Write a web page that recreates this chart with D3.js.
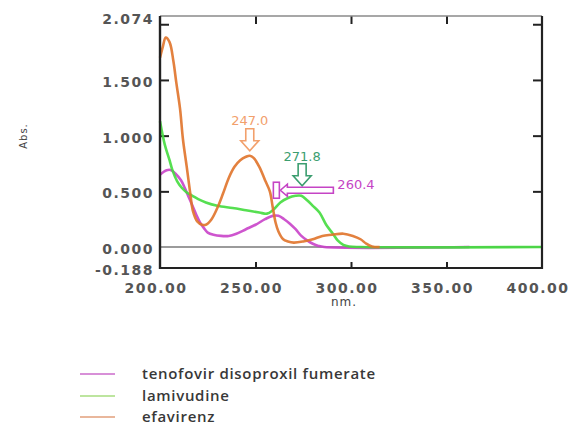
<!DOCTYPE html>
<html>
<head>
<meta charset="utf-8">
<script src="https://cdn.jsdelivr.net/npm/d3@7"></script>
<style>
  body { margin: 0; background: #fff; }
  svg { display: block; }
</style>
</head>
<body>
<div id="chart"></div>
<script>
var WIDTH = 572;
var HEIGHT = 427;

// wavelength (nm) / absorbance
var TENOFOVIR_NM  = [200, 203.5, 206, 208, 211, 213, 215, 217, 219, 221, 223, 225, 228, 232, 236, 240, 245, 250, 255, 259, 262, 265, 268, 271, 274, 277, 280, 283, 286, 362];
var TENOFOVIR_ABS = [0.65, 0.69, 0.69, 0.66, 0.60, 0.53, 0.45, 0.37, 0.29, 0.22, 0.17, 0.13, 0.11, 0.10, 0.10, 0.12, 0.16, 0.20, 0.25, 0.28, 0.28, 0.25, 0.21, 0.16, 0.10, 0.06, 0.03, 0.01, 0.0, 0.0];

var LAMIVUDINE_NM  = [200, 202.5, 205, 206.5, 209, 211.5, 214, 217, 220, 224, 230, 238, 245, 252, 256, 259, 263, 267, 271, 274, 277, 280, 283.5, 287, 290.5, 293, 296, 299, 305, 400];
var LAMIVUDINE_ABS = [1.13, 0.92, 0.78, 0.69, 0.59, 0.53, 0.49, 0.46, 0.43, 0.40, 0.37, 0.35, 0.33, 0.31, 0.30, 0.33, 0.40, 0.44, 0.46, 0.46, 0.42, 0.37, 0.31, 0.20, 0.12, 0.06, 0.02, 0.005, 0.0, 0.0];

var EFAVIRENZ_NM  = [200, 201.5, 203, 205, 207, 208.5, 210.5, 212, 214, 215.7, 217.3, 219.5, 222, 224, 227, 230, 233, 236, 239, 242, 245, 247, 249, 252, 255, 257.5, 259, 260.5, 262, 264.5, 267, 270, 275, 280, 285, 290, 296, 301, 305, 308, 311, 315];
var EFAVIRENZ_ABS = [1.70, 1.80, 1.88, 1.84, 1.67, 1.48, 1.24, 0.97, 0.72, 0.50, 0.32, 0.23, 0.20, 0.20, 0.25, 0.35, 0.48, 0.62, 0.72, 0.78, 0.81, 0.82, 0.80, 0.72, 0.60, 0.50, 0.36, 0.22, 0.14, 0.07, 0.05, 0.04, 0.05, 0.07, 0.10, 0.11, 0.12, 0.10, 0.07, 0.03, 0.005, 0.0];

var SERIES_NAMES = ["tenofovir disoproxil fumerate", "lamivudine", "efavirenz"];
var SERIES_COLORS = ["#c942c9", "#44db3e", "#e0732a"];
var LEGEND_COLORS = ["#d890d8", "#bde59f", "#e9b79c"];

// peak markers: wavelength and the label printed by the instrument
var PEAK_NM = [247.0, 271.8, 260.4];
var PEAK_LABELS = ["247.0", "271.8", "260.4"];
var PEAK_COLORS = ["#f2a06c", "#3c9e70", "#c544c5"];

var Y_TICK_VALUES = [2.074, 1.5, 1.0, 0.5, 0.0, -0.188];
var Y_TICK_LABELS = ["2.074", "1.500", "1.000", "0.500", "0.000", "-0.188"];
var Y_INNER_TICKS = [2.0, 1.5, 1.0, 0.5];
var X_TICK_VALUES = [200, 250, 300, 350, 400];
var X_TICK_LABELS = ["200.00", "250.00", "300.00", "350.00", "400.00"];
var X_INNER_TICKS = [250, 300, 350];

var PLOT = { left: 160, right: 542, top: 16, bottom: 268 };

var x = d3.scaleLinear().domain([200, 400]).range([PLOT.left, PLOT.right]);
var y = d3.scaleLinear().domain([-0.188, 2.074]).range([PLOT.bottom, PLOT.top]);

var svg = d3.select("#chart").append("svg")
  .attr("width", WIDTH)
  .attr("height", HEIGHT);

function zip(nm, abs) {
  return nm.map(function(d, i) { return { nm: d, abs: abs[i] }; });
}

var series = [
  zip(TENOFOVIR_NM, TENOFOVIR_ABS),
  zip(LAMIVUDINE_NM, LAMIVUDINE_ABS),
  zip(EFAVIRENZ_NM, EFAVIRENZ_ABS)
];

// zero line
svg.append("line")
  .attr("x1", PLOT.left).attr("x2", PLOT.right)
  .attr("y1", y(0)).attr("y2", y(0))
  .attr("stroke", "#7a7a7a")
  .attr("stroke-width", 1.6);

// inner ticks
var tickG = svg.append("g").attr("class", "ticks");
tickG.append("g")
  .attr("transform", "translate(0," + PLOT.bottom + ")")
  .call(d3.axisBottom(x).tickValues(X_INNER_TICKS).tickSize(-6).tickFormat(""));
tickG.append("g")
  .attr("transform", "translate(0," + PLOT.top + ")")
  .call(d3.axisTop(x).tickValues(X_INNER_TICKS).tickSize(-8).tickFormat(""));
tickG.append("g")
  .attr("transform", "translate(" + PLOT.left + ",0)")
  .call(d3.axisLeft(y).tickValues(Y_INNER_TICKS).tickSize(-9).tickFormat(""));
tickG.append("g")
  .attr("transform", "translate(" + PLOT.right + ",0)")
  .call(d3.axisRight(y).tickValues(Y_INNER_TICKS).tickSize(-9).tickFormat(""));
tickG.selectAll(".domain").remove();
tickG.selectAll(".tick line").attr("stroke", "#555").attr("stroke-width", 1.6);
tickG.selectAll("g:nth-child(1) .tick line, g:nth-child(2) .tick line")
  .attr("stroke", "#222").attr("stroke-width", 2);

// curves
var line = d3.line()
  .x(function(d) { return x(d.nm); })
  .y(function(d) { return y(d.abs); })
  .curve(d3.curveCatmullRom.alpha(0.5));

svg.selectAll("path.curve")
  .data(series)
  .enter()
  .append("path")
  .attr("class", "curve")
  .attr("d", line)
  .attr("fill", "none")
  .attr("stroke", function(d, i) { return SERIES_COLORS[i]; })
  .attr("stroke-width", 2.6)
  .attr("stroke-linejoin", "round")
  .attr("opacity", 0.9);

// frame
svg.append("line")
  .attr("x1", PLOT.left).attr("x2", PLOT.right)
  .attr("y1", PLOT.top).attr("y2", PLOT.top)
  .attr("stroke", "#8a8a8a").attr("stroke-width", 1.6);
svg.append("line")
  .attr("x1", PLOT.left).attr("x2", PLOT.right)
  .attr("y1", PLOT.bottom).attr("y2", PLOT.bottom)
  .attr("stroke", "#222").attr("stroke-width", 2.2);
svg.append("line")
  .attr("x1", PLOT.left).attr("x2", PLOT.left)
  .attr("y1", PLOT.top).attr("y2", PLOT.bottom + 1)
  .attr("stroke", "#222").attr("stroke-width", 2.4);
svg.append("line")
  .attr("x1", PLOT.right).attr("x2", PLOT.right)
  .attr("y1", PLOT.top).attr("y2", PLOT.bottom + 1)
  .attr("stroke", "#222").attr("stroke-width", 2.2);

// tick labels
svg.selectAll("text.ylab")
  .data(Y_TICK_VALUES)
  .enter()
  .append("text")
  .attr("class", "ylab")
  .attr("x", PLOT.left - 6)
  .attr("y", function(d) { return y(d) + (d === Y_TICK_VALUES[0] ? 3 : 2); })
  .attr("dy", "0.35em")
  .attr("text-anchor", "end")
  .text(function(d, i) { return Y_TICK_LABELS[i]; });

svg.selectAll("text.xlab")
  .data(X_TICK_VALUES)
  .enter()
  .append("text")
  .attr("class", "xlab")
  .attr("x", function(d) { return x(d) - 4; })
  .attr("y", PLOT.bottom + 20)
  .attr("dy", "0.35em")
  .attr("text-anchor", "middle")
  .text(function(d, i) { return X_TICK_LABELS[i]; });

svg.selectAll("text.ylab, text.xlab")
  .attr("font-family", "DejaVu Sans, sans-serif")
  .attr("font-size", 14)
  .attr("font-weight", "bold")
  .attr("letter-spacing", "1.5px")
  .attr("fill", "#555");

svg.append("text")
  .attr("x", 344)
  .attr("y", 302)
  .attr("dy", "0.35em")
  .attr("text-anchor", "middle")
  .attr("font-family", "DejaVu Sans, sans-serif")
  .attr("font-size", 12)
  .attr("letter-spacing", "1px")
  .attr("fill", "#444")
  .text("nm.");

svg.append("text")
  .attr("transform", "translate(23,136) rotate(-90)")
  .attr("dy", "0.35em")
  .attr("text-anchor", "middle")
  .attr("font-family", "DejaVu Sans, sans-serif")
  .attr("font-size", 10)
  .attr("letter-spacing", "1px")
  .attr("fill", "#444")
  .text("Abs.");

// peak annotations
function downArrow(cx, tipY, color) {
  var p = [
    [cx - 4, tipY - 22], [cx + 4, tipY - 22], [cx + 4, tipY - 10], [cx + 9, tipY - 10],
    [cx, tipY], [cx - 9, tipY - 10], [cx - 4, tipY - 10]
  ];
  svg.append("polygon")
    .attr("points", p.join(" "))
    .attr("fill", "#fff")
    .attr("stroke", color)
    .attr("stroke-width", 1.6);
}

var peakAbs = [0.82, 0.46, 0.51];

// 247.0 (efavirenz)
var ax0 = x(PEAK_NM[0]);
var ay0 = y(peakAbs[0]) - 5;
downArrow(ax0, ay0, PEAK_COLORS[0]);
// 271.8 (lamivudine)
var ax1 = x(PEAK_NM[1]) + 5;
var ay1 = y(peakAbs[1]) - 10;
downArrow(ax1, ay1, PEAK_COLORS[1]);
// 260.4 (tenofovir), drawn as a left-pointing arrow to a bar
var ax2 = x(PEAK_NM[2]);
var ay2 = y(peakAbs[2]);
svg.append("rect")
  .attr("x", ax2 - 2).attr("y", ay2 - 8)
  .attr("width", 6).attr("height", 16)
  .attr("fill", "#fff")
  .attr("stroke", PEAK_COLORS[2])
  .attr("stroke-width", 1.6);
svg.append("polygon")
  .attr("points", [
    [ax2 + 5, ay2], [ax2 + 12, ay2 - 6], [ax2 + 12, ay2 - 3], [ax2 + 58, ay2 - 3],
    [ax2 + 58, ay2 + 3], [ax2 + 12, ay2 + 3], [ax2 + 12, ay2 + 6]
  ].join(" "))
  .attr("fill", "#fff")
  .attr("stroke", PEAK_COLORS[2])
  .attr("stroke-width", 1.6);

var labelPos = [[ax0, ay0 - 30], [ax1, ay1 - 29], [ax2 + 62, ay2 - 6]];
svg.selectAll("text.peak")
  .data(PEAK_LABELS)
  .enter()
  .append("text")
  .attr("class", "peak")
  .attr("x", function(d, i) { return labelPos[i][0]; })
  .attr("y", function(d, i) { return labelPos[i][1]; })
  .attr("dy", "0.35em")
  .attr("text-anchor", function(d, i) { return i === 2 ? "start" : "middle"; })
  .attr("font-family", "DejaVu Sans, sans-serif")
  .attr("font-size", 13)
  .attr("fill", function(d, i) { return PEAK_COLORS[i]; })
  .text(function(d) { return d; });

// legend
var legend = svg.selectAll("g.legend")
  .data(SERIES_NAMES)
  .enter()
  .append("g")
  .attr("class", "legend")
  .attr("transform", function(d, i) { return "translate(0," + [374, 396, 417][i] + ")"; });

legend.append("line")
  .attr("x1", 80).attr("x2", 115)
  .attr("y1", 0).attr("y2", 0)
  .attr("stroke", function(d, i) { return LEGEND_COLORS[i]; })
  .attr("stroke-width", 2);

legend.append("text")
  .attr("x", 142)
  .attr("y", 0)
  .attr("dy", "0.32em")
  .attr("font-family", "Open Sans, sans-serif")
  .attr("font-size", 15)
  .attr("font-weight", 600)
  .attr("letter-spacing", "0.7px")
  .attr("fill", "#383838")
  .text(function(d) { return d; });
</script>
</body>
</html>
